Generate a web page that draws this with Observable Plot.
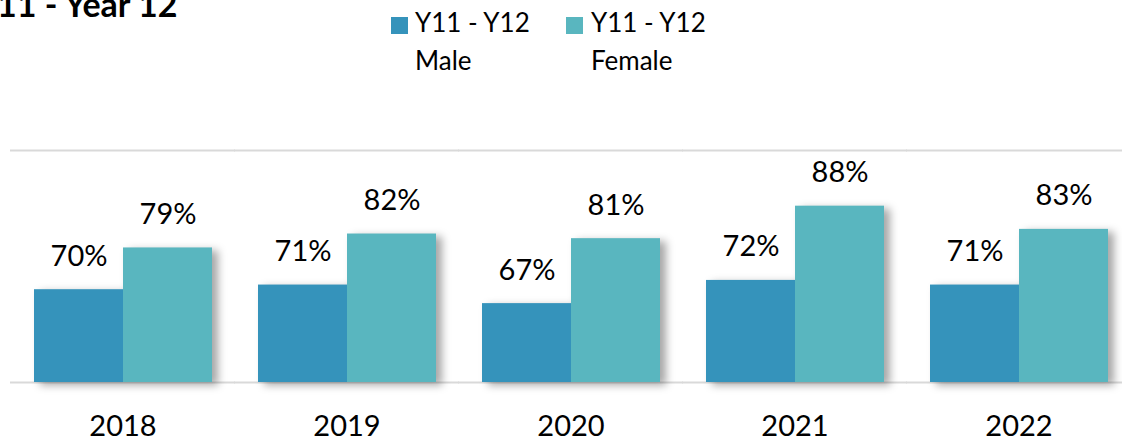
<!DOCTYPE html>
<html>
<head>
<meta charset="utf-8">
<script src="https://cdn.jsdelivr.net/npm/d3@7"></script>
<script src="https://cdn.jsdelivr.net/npm/@observablehq/plot@0.6"></script>
<style>
  html, body { margin: 0; padding: 0; background: #fff; overflow: hidden; width: 1122px; height: 443px; }
  #header { position: relative; height: 90px; width: 1122px; font-family: Lato, "Open Sans", sans-serif; color: #000; }
  #title { position: absolute; left: -3px; top: -13px; font-size: 34px; font-weight: bold; line-height: 34px; white-space: nowrap; }
  .sw { position: absolute; width: 17px; height: 17px; top: 17px; }
  .lt { position: absolute; top: 3px; font-size: 26px; line-height: 38px; width: 140px; }
  #chart svg { max-width: none !important; }
</style>
</head>
<body>
<div id="header">
  <div id="title">11 - Year 12</div>
</div>
<div id="chart"></div>
<script>
const years = ["2018", "2019", "2020", "2021", "2022"];
const series = ["Y11 - Y12 Male", "Y11 - Y12 Female"];
const seriesLines = [["Y11 - Y12", "Male"], ["Y11 - Y12", "Female"]];
const maleValues = [70, 71, 67, 72, 71];
const femaleValues = [79, 82, 81, 88, 83];
const colors = ["#3593bb", "#59b6bf"];
const gridValues = [50, 100];

const data = [];
years.forEach((y, i) => {
  data.push({year: y, series: series[0], value: maleValues[i]});
  data.push({year: y, series: series[1], value: femaleValues[i]});
});

// legend
const header = document.getElementById("header");
const legendPos = [[391, 415], [566, 591]];
series.forEach((s, i) => {
  const sw = document.createElement("div");
  sw.className = "sw";
  sw.style.left = legendPos[i][0] + "px";
  sw.style.background = colors[i];
  header.appendChild(sw);
  const t = document.createElement("div");
  t.className = "lt";
  t.style.left = legendPos[i][1] + "px";
  t.innerHTML = seriesLines[i].join("<br>");
  header.appendChild(t);
});

const chart = Plot.plot({
  width: 1144,
  height: 353,
  marginLeft: 9,
  marginRight: 11,
  marginTop: 60,
  marginBottom: 61,
  style: {fontFamily: "Lato, 'Open Sans', sans-serif", fontSize: "29px", color: "#000", background: "#fff"},
  fx: {domain: years, paddingInner: 0.2, paddingOuter: 0.1, label: null, tickSize: 0, tickPadding: 33, axis: "bottom"},
  x: {domain: series, padding: 0, axis: null},
  y: {domain: [50, 100], axis: null},
  color: {domain: series, range: colors},
  marks: [
    Plot.ruleY(gridValues, {stroke: "#d9d9d9", strokeWidth: 2, insetLeft: -23, insetRight: -23}),
    Plot.barY(data, {fx: "year", x: "series", y1: 50, y2: "value", fill: "series",
      imageFilter: "drop-shadow(6px 3px 4px rgba(0,0,0,0.35))"}),
    Plot.text(data, {fx: "year", x: "series", y: "value", text: d => d.value + "%",
      lineAnchor: "bottom", dy: -24, fill: "#000", fontSize: 29})
  ]
});
document.getElementById("chart").appendChild(chart);
</script>
</body>
</html>
